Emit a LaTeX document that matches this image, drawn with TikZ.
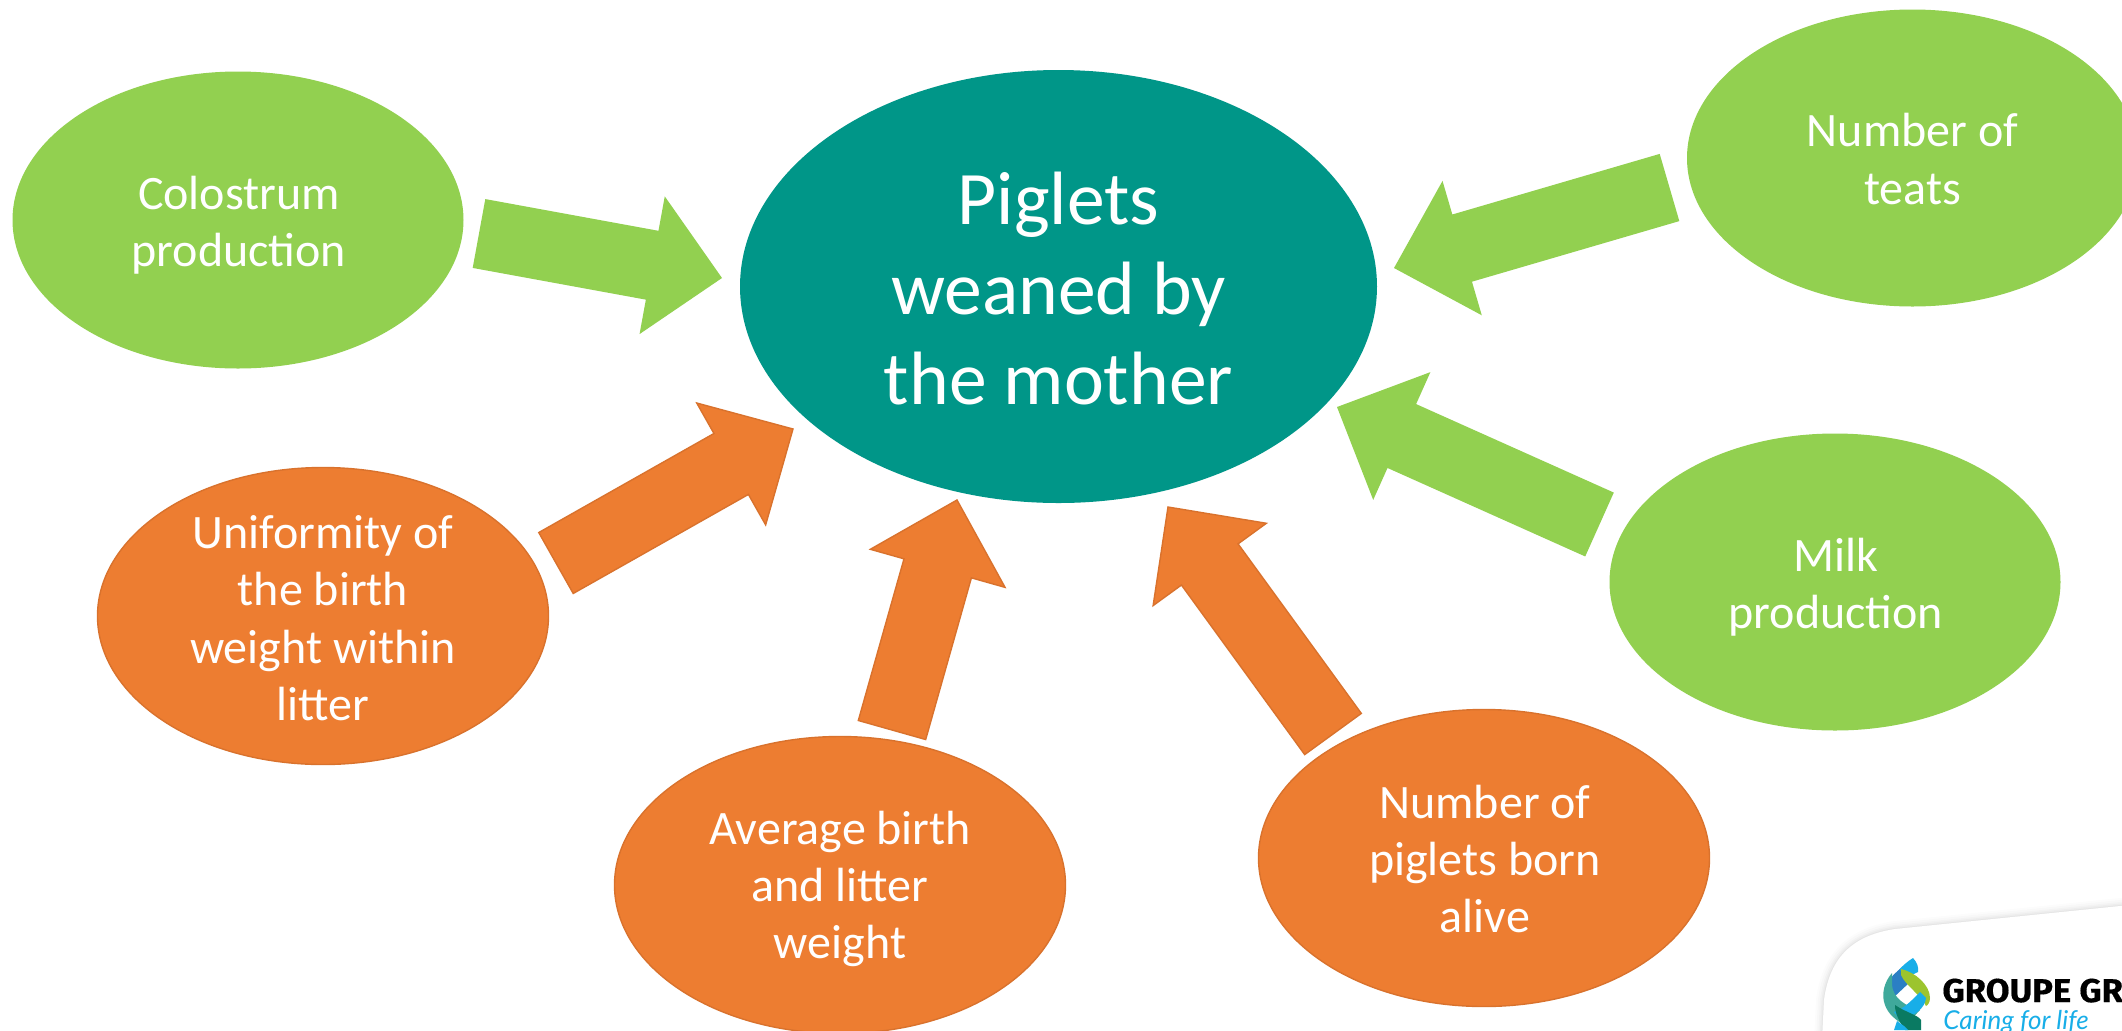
\documentclass[tikz,border=0pt]{standalone}
\usepackage{fontspec}
\setmainfont{Carlito}
\newfontfamily\logobold{Fira Sans}[UprightFont=* Bold,FakeStretch=1.05,FakeBold=0.4]
\newfontfamily\logoital{Lato}[UprightFont=* Italic]
\usetikzlibrary{calc,shapes.geometric}
\definecolor{leaf}{HTML}{92D050}
\definecolor{tealc}{HTML}{009688}
\definecolor{orangec}{HTML}{ED7D31}
\definecolor{orangee}{HTML}{D9722D}
\definecolor{lcyan}{HTML}{18AEE8}
\definecolor{lblue}{HTML}{2B7FC4}
\definecolor{lgreen}{HTML}{9CC42E}
\definecolor{lteal}{HTML}{3FA99B}
\definecolor{ldark}{HTML}{0A7A62}
\newcommand\blockarrow[3]{%
  \path[#1] ($(#2)!17.5pt!90:(#3)$) -- ($($(#3)!35.5pt!(#2)$)!17.5pt!90:(#3)$)
    -- ($($(#3)!35.5pt!(#2)$)!35pt!90:(#3)$) -- (#3)
    -- ($($(#3)!35.5pt!(#2)$)!35pt!-90:(#3)$) -- ($($(#3)!35.5pt!(#2)$)!17.5pt!-90:(#3)$)
    -- ($(#2)!17.5pt!-90:(#3)$) -- cycle;}
\tikzset{
  x=0.5pt,y=-0.5pt,
  bubble/.style={ellipse,inner sep=0pt,minimum width=225.5pt,minimum height=148.5pt},
  greenb/.style={bubble,fill=leaf},
  orangeb/.style={bubble,fill=orangec,draw=orangee,line width=0.7pt},
  hub/.style={bubble,fill=tealc,minimum width=318.5pt,minimum height=216.5pt},
  smalltext/.style={inner sep=0pt,align=center,text=white,font=\fontsize{24}{28.7}\selectfont},
  bigtext/.style={inner sep=0pt,align=center,text=white,font=\fontsize{37.8}{45}\selectfont},
  greena/.style={fill=leaf},
  orangea/.style={fill=orangec,draw=orangee,line width=0.7pt,line join=miter},
}
\begin{document}
\begin{tikzpicture}
\useasboundingbox (0,0) rectangle (2122,1030);
\clip (0,0) rectangle (2122,1030);
\fill[white] (0,0) rectangle (2122,1030);
% card with soft shadow
\foreach \w/\o in {16/0.012,12/0.015,8/0.02,5/0.025,2/0.03}{
  \draw[black,opacity=\o,line width=\w*0.5pt] (1822,1040) -- (1824,1000) .. controls (1830,955) and (1855,935) .. (1895,929) -- (2130,905);
}
\fill[white] (1822,1040) -- (1824,1000) .. controls (1830,955) and (1855,935) .. (1895,929) -- (2130,905) -- (2130,1040) -- cycle;
% nodes
\node[hub] (hub) at (1058.5,286.5) {};
\node[greenb] (colo) at (238,220) {};
\node[greenb] (teats) at (1912.5,158) {};
\node[greenb] (milk) at (1835,582) {};
\node[orangeb] (unif) at (323,616) {};
\node[orangeb] (avg) at (840,885) {};
\node[orangeb] (born) at (1484,858) {};
\node[bigtext] (hubt) at ($(hub)+(0,2)$) {Piglets\\weaned by\\the mother};
\node[smalltext] (colot) at ($(colo)+(1,5)$) {Colostrum\\production};
\node[smalltext] (teatst) at ($(teats)+(0,1)$) {Number of\\teats};
\node[smalltext] (milkt) at ($(milk)+(1,5)$) {Milk\\production};
\node[smalltext] (unift) at ($(unif)+(0,2)$) {Uniformity of\\the birth\\weight within\\litter};
\node[smalltext] (avgt) at ($(avg)+(0,4)$) {Average birth\\and litter\\weight};
\node[smalltext] (bornt) at ($(born)+(1,1)$) {Number of\\piglets born\\alive};
% arrow ends
\coordinate (a1) at (479,233.5);  \coordinate (b1) at (722,278);
\coordinate (a2) at (1669.5,187.5); \coordinate (b2) at (1394,268);
\coordinate (a3) at (1599.5,524.5); \coordinate (b3) at (1337,407);
\coordinate (a4) at (556,563); \coordinate (b4) at (793,429);
\coordinate (a5) at (892,730);  \coordinate (b5) at (957,500);
\coordinate (a6) at (1333,734);   \coordinate (b6) at (1168,507);
\blockarrow{greena}{a1}{b1}
\blockarrow{greena}{a2}{b2}
\blockarrow{greena}{a3}{b3}
\blockarrow{orangea}{a4}{b4}
\blockarrow{orangea}{a5}{b5}
\blockarrow{orangea}{a6}{b6}
% logo mark
\fill[lcyan] (1913,958) .. controls (1917,962) and (1919,968) .. (1918,972) -- (1905,978) -- (1897,972) .. controls (1902,966) and (1908,961) .. (1913,958) -- cycle;
\fill[lblue] (1900,969) .. controls (1890,977) and (1885,985) .. (1884,990) -- (1893,998) -- (1910,982) -- (1902,976) -- cycle;
\fill[lteal] (1892,973) .. controls (1884,982) and (1881,995) .. (1885,1005) .. controls (1888,1014) and (1896,1020) .. (1905,1026) -- (1920,1010) .. controls (1905,1006) and (1893,998) .. (1892,985) -- cycle;
\fill[lgreen] (1901,969) .. controls (1915,972) and (1930,985) .. (1930,998) .. controls (1930,1002) and (1928,1005) .. (1926,1006) .. controls (1922,996) and (1905,985) .. (1901,975) -- cycle;
\fill[lcyan] (1926,998) .. controls (1925,1008) and (1915,1016) .. (1900,1020) -- (1894,1012) .. controls (1905,1008) and (1912,1000) .. (1920,992) -- cycle;
\fill[ldark] (1895,1005) .. controls (1905,1012) and (1918,1015) .. (1921,1020) -- (1921,1030) -- (1905,1030) .. controls (1900,1022) and (1895,1015) .. (1895,1005) -- cycle;
\fill[lcyan] (1897,1021) -- (1904,1026) -- (1908,1030) -- (1894,1030) -- cycle;
% logo text
\node[anchor=base west,inner sep=0pt,font=\logobold\fontsize{16.5}{16.5}\selectfont] (lt1) at (1942,1002) {GROUPE GR};
\node[anchor=base west,inner sep=0pt,text=lcyan,font=\logoital\fontsize{13}{13}\selectfont] (lt2) at (1943,1029) {Caring for life};
\end{tikzpicture}
\end{document}
